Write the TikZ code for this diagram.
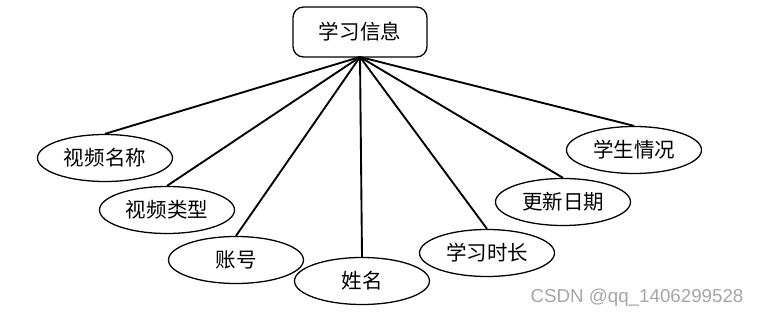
\documentclass[tikz,border=0pt]{standalone}
\usepackage{fontspec}
\setsansfont{Liberation Sans}
\newfontfamily\cjk{Noto Sans CJK SC}
\usetikzlibrary{positioning, shapes.geometric}
\tikzset{
  entity/.style={
    draw=black, fill=white, rounded corners=9pt, line width=1.1pt,
    minimum width=4.02cm, minimum height=1.5cm,
    align=center, font=\cjk\fontsize{17.5}{19}\selectfont
  },
  attr/.style={
    ellipse, draw=black, fill=white, line width=1.1pt,
    minimum width=4.05cm, minimum height=1.41cm, inner sep=0pt,
    align=center, font=\cjk\fontsize{17.5}{19}\selectfont
  },
  link/.style={line width=1.6pt}
}

\begin{document}
\begin{tikzpicture}[x=0.03cm, y=-0.03cm]

\useasboundingbox (0,0) rectangle (758,317);

%% ── Entity ───────────────────────────────────────────────────
\node[entity] (info) at (360,32) {学习信息};
\coordinate (hub) at (360,57);

%% ── Attributes ───────────────────────────────────────────────
\node[attr] (vname)  at (105,158) {视频名称};
\node[attr] (vtype)  at (167,210) {视频类型};
\node[attr] (acct)   at (236,260) {账号};
\node[attr] (sname)  at (362,281) {姓名};
\node[attr] (stime)  at (487,253) {学习时长};
\node[attr] (udate)  at (563,202) {更新日期};
\node[attr] (status) at (634,150) {学生情况};

%% ── Links ────────────────────────────────────────────────────
\foreach \a in {vname, vtype, acct, sname, stime, udate, status}
  \draw[link] (hub) -- (\a.north);

%% ── Watermark ────────────────────────────────────────────────
\node[font=\sffamily\fontsize{16}{18}\selectfont, text=gray!70] (mark) at (637,298) {CSDN @qq\_1406299528};

\end{tikzpicture}
\end{document}
